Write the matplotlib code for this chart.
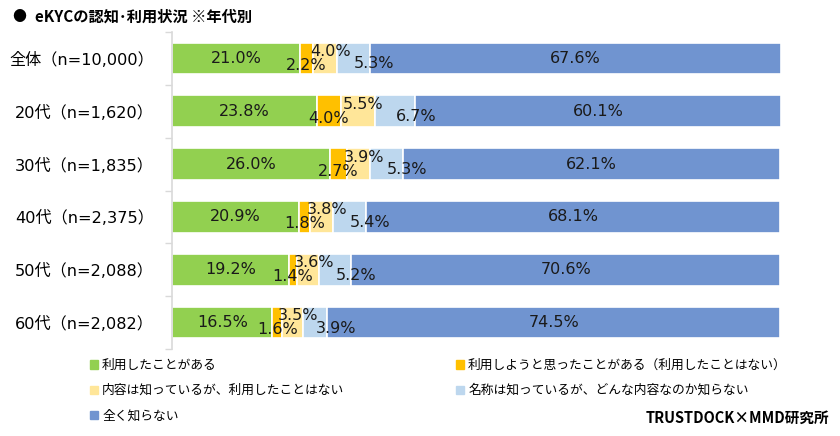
import matplotlib
matplotlib.use('Agg')
import matplotlib.pyplot as plt
import matplotlib.patches as mpatches
import numpy as np

plt.rcParams['font.family'] = ['Noto Sans CJK JP', 'DejaVu Sans']
latin_first = ['DejaVu Sans', 'Noto Sans CJK JP']

# data
groups = ['全体（n=10,000）', '20代（n=1,620）', '30代（n=1,835）',
          '40代（n=2,375）', '50代（n=2,088）', '60代（n=2,082）']
used = [21.0, 23.8, 26.0, 20.9, 19.2, 16.5]
wanted = [2.2, 4.0, 2.7, 1.8, 1.4, 1.6]
know_content = [4.0, 5.5, 3.9, 3.8, 3.6, 3.5]
know_name = [5.3, 6.7, 5.3, 5.4, 5.2, 3.9]
not_know = [67.6, 60.1, 62.1, 68.1, 70.6, 74.5]

series = [used, wanted, know_content, know_name, not_know]
names = ['利用したことがある', '利用しようと思ったことがある（利用したことはない）',
         '内容は知っているが、利用したことはない', '名称は知っているが、どんな内容なのか知らない',
         '全く知らない']
colors = ['#92D050', '#FFC000', '#FFE699', '#BDD7EE', '#7094D0']
# label offsets (points) - excel put the small ones off-centre
offsets = [(0, 0), (0, -5), (4, 5), (15, -4), (0, 0)]

fig = plt.figure(figsize=(8.4, 4.36), dpi=100)
ax = fig.add_axes([172/840, 1-349/436, 609/840, 317/436])

y = np.arange(len(groups))
left = np.zeros(len(groups))
handles = []
for vals, name, c, off in zip(series, names, colors, offsets):
    vals = np.array(vals)
    ax.barh(y, vals, left=left, height=0.6, color=c, edgecolor='white', linewidth=1.2)
    handles.append(mpatches.Patch(color=c, label=name))
    for yi, l, v in zip(y, left, vals):
        ax.annotate(f'{v:.1f}%', (l + v/2, yi), xytext=off, textcoords='offset points',
                    ha='center', va='center', fontsize=11.5, color='#1a1a1a',
                    family='DejaVu Sans')
    left += vals

ax.set_xlim(0, 100.1)
ax.set_ylim(5.5, -0.5)
ax.set_xticks([])
ax.set_yticks(y)
ax.set_yticklabels(groups, fontsize=11.6, color='#000000', family=latin_first)
ax.tick_params(axis='y', length=0, pad=13)
ax.set_yticks(np.arange(-0.5, 6, 1), minor=True)
ax.tick_params(axis='y', which='minor', length=5, color='#D9D9D9', width=1)
for s in ['top', 'right', 'bottom']:
    ax.spines[s].set_visible(False)
ax.spines['left'].set_color('#D9D9D9')
ax.spines['left'].set_linewidth(1.2)

# title
fig.text(12/840, 1-17/436, '●', fontsize=10, va='center', ha='left')
fig.text(35/840, 1-17/436, 'eKYCの認知･利用状況 ※年代別', fontsize=11, fontweight='bold',
         va='center', ha='left')

# legend in two columns, drawn as two legends
leg_kw = dict(frameon=False, fontsize=9.2, handlelength=0.6, handleheight=0.6,
              handletextpad=0.35, labelspacing=0.95, borderaxespad=0, borderpad=0)
leg1 = fig.legend([handles[0], handles[2], handles[4]], [names[0], names[2], names[4]],
                  loc='upper left', bbox_to_anchor=(90/840, 1-359/436), **leg_kw)
leg2 = fig.legend([handles[1], handles[3]], [names[1], names[3]],
                  loc='upper left', bbox_to_anchor=(456/840, 1-359/436), **leg_kw)

fig.text(829/840, 1-418/436, 'TRUSTDOCK×MMD研究所', fontsize=10.5, fontweight='bold',
         ha='right', va='center')

fig.savefig('out.png', dpi=100)
